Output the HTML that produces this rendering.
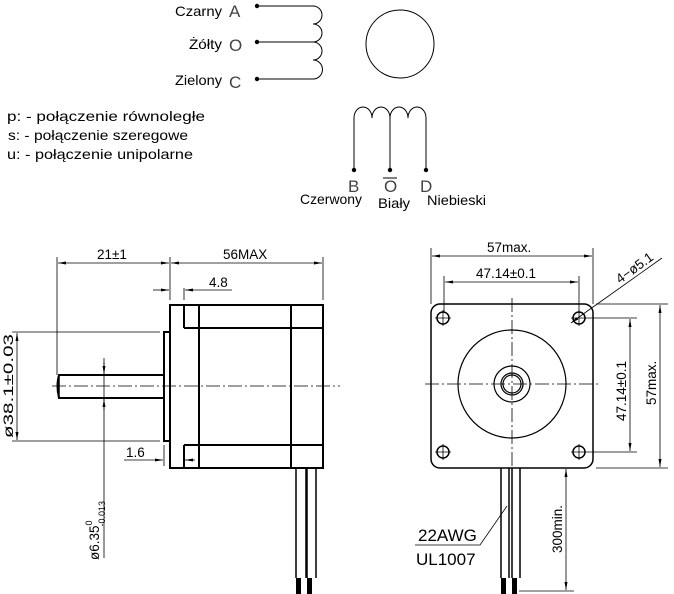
<!DOCTYPE html>
<html><head><meta charset="utf-8"><style>
html,body{margin:0;padding:0;background:#fff;}
svg{display:block;}
.c{font-family:"Liberation Sans",sans-serif;font-size:14px;fill:#000;}
.d{font-family:"Liberation Sans",sans-serif;font-size:13.5px;fill:#000;}
.l{font-family:"Liberation Sans",sans-serif;font-size:17px;fill:#444;}
</style></head><body>
<svg width="674" height="594" viewBox="0 0 674 594" xmlns="http://www.w3.org/2000/svg">
<defs>
<marker id="a" markerWidth="8" markerHeight="6" refX="8" refY="3" orient="auto" markerUnits="userSpaceOnUse"><path d="M0,1.5 L8,3 L0,4.5 z" fill="#000"/></marker>
</defs>
<g fill="none" stroke="#000" stroke-width="1">
<path d="M257,6 H313 A9,9 0 0 1 313,24 A9,9 0 0 1 313,42 A9,9 0 0 1 313,60 A9.5,9.5 0 0 1 313,79 H257"/>
<path d="M257,42 H313"/>
<circle cx="400" cy="44" r="34"/>
<path d="M354,170 V118 A9,11 0 0 1 372,118 A9,11 0 0 1 390,118 A9,11 0 0 1 408,118 A9,11 0 0 1 426,118 V170"/>
<path d="M390,118 V170"/>
<path d="M383,178 H397"/>
</g>
<g fill="#000">
<circle cx="257" cy="6" r="2.2"/><circle cx="257" cy="42" r="2.2"/><circle cx="257" cy="79" r="2.2"/>
<circle cx="354" cy="170" r="2.2"/><circle cx="390" cy="170" r="2.2"/><circle cx="426" cy="170" r="2.2"/>
</g>
<text class="c" x="175" y="16" textLength="47" lengthAdjust="spacingAndGlyphs">Czarny</text>
<text class="c" x="189" y="49" textLength="33" lengthAdjust="spacingAndGlyphs">Żółty</text>
<text class="c" x="175" y="85" textLength="47" lengthAdjust="spacingAndGlyphs">Zielony</text>
<text class="l" x="229" y="17">A</text>
<text class="l" x="229" y="51">O</text>
<text class="l" x="229" y="88">C</text>
<text class="l" x="348" y="192">B</text>
<text class="l" x="384" y="192">O</text>
<text class="l" x="420" y="192">D</text>
<text class="c" x="300" y="204" textLength="62" lengthAdjust="spacingAndGlyphs">Czerwony</text>
<text class="c" x="378" y="208" textLength="32" lengthAdjust="spacingAndGlyphs">Biały</text>
<text class="c" x="427" y="205" textLength="59" lengthAdjust="spacingAndGlyphs">Niebieski</text>
<text class="c" x="7" y="121" textLength="198" lengthAdjust="spacingAndGlyphs">p: - połączenie równoległe</text>
<text class="c" x="8" y="140" textLength="180" lengthAdjust="spacingAndGlyphs">s: - połączenie szeregowe</text>
<text class="c" x="7" y="159" textLength="186" lengthAdjust="spacingAndGlyphs">u: - połączenie unipolarne</text>

<g fill="none" stroke="#000" stroke-width="2">
<rect x="170" y="305" width="153" height="163"/>
<path d="M184,305 V328 M184,445 V468 M199,305 V468 M291,305 V468 M184,328 H323 M184,445 H323"/>
<path d="M164,332 H170 V441 H164 z"/>
<path d="M164,375 H59 Q56,386 59,398 H164"/>
<path d="M59,375 V398" stroke-width="1.5"/>
<path d="M296,468 V578 M306,468 V578 M307,468 V578 M316,468 V578" stroke-width="1.5"/>
</g>
<g fill="#000"><rect x="296" y="578" width="5" height="16"/><rect x="307" y="578" width="5" height="16"/></g>
<g fill="none" stroke="#000" stroke-width="0.8">
<path d="M52,386 H340" stroke-dasharray="14,3,2,3"/>
<path d="M57,257 V375 M170,257 V300 M323,257 V300 M184,288 V300 M164,445 V466"/>
<path d="M113,263 H58" marker-end="url(#a)"/><path d="M113,263 H169" marker-end="url(#a)"/>
<path d="M245,263 H171" marker-end="url(#a)"/><path d="M245,263 H322" marker-end="url(#a)"/>
<path d="M153,290 H169" marker-end="url(#a)"/><path d="M232,290 H185" marker-end="url(#a)"/>
<path d="M12,332 H160 M12,441 H160"/>
<path d="M17,386 V333" marker-end="url(#a)"/><path d="M17,386 V440" marker-end="url(#a)"/>
<path d="M104,358 V558"/>
<path d="M104,362 V374" marker-end="url(#a)"/><path d="M104,410 V399" marker-end="url(#a)"/>
<path d="M124,460 H163" marker-end="url(#a)"/><path d="M195,460 H185" marker-end="url(#a)"/>
</g>
<text class="d" x="97" y="259">21±1</text>
<text class="d" x="223" y="259">56MAX</text>
<text class="d" x="209" y="287">4.8</text>
<text class="d" x="126" y="457">1.6</text>
<text class="d" transform="translate(13,438) rotate(-90)" textLength="104" lengthAdjust="spacingAndGlyphs">ø38.1±0.03</text>
<text class="d" transform="translate(99,560) rotate(-90)">ø6.35<tspan font-size="9" dy="-7">0</tspan><tspan font-size="9" dx="-6" dy="13">-0.013</tspan></text>

<g fill="none" stroke="#000" stroke-width="1.5">
<rect x="431" y="304" width="162" height="164" rx="9"/>
<circle cx="512" cy="384" r="54" stroke-width="1.2"/>
<circle cx="512" cy="384" r="18" stroke-width="1.2"/>
<circle cx="512" cy="384" r="11" stroke-width="1.2"/>
<circle cx="512" cy="384" r="9" stroke-width="1.2"/>
<circle cx="443" cy="318" r="6"/><circle cx="579" cy="318" r="6"/>
<circle cx="443" cy="452" r="6"/><circle cx="579" cy="452" r="6"/>
<path d="M501,468 V578 M509,468 V578 M512,468 V578 M520,468 V578"/>
</g>
<g fill="#000"><rect x="501" y="578" width="5" height="16"/><rect x="512" y="578" width="5" height="16"/></g>
<g fill="none" stroke="#000" stroke-width="0.8">
<path d="M435,318 H451 M443,310 V326 M571,318 H587 M579,310 V326 M435,452 H451 M443,444 V460 M571,452 H587 M579,444 V460"/>
<path d="M425,384 H600 M512,298 V495" stroke-dasharray="14,3,2,3"/>
<path d="M431,248 V304 M593,248 V304 M444,276 V312 M579,276 V312"/>
<path d="M511,256 H432" marker-end="url(#a)"/><path d="M511,256 H592" marker-end="url(#a)"/>
<path d="M511,282 H445" marker-end="url(#a)"/><path d="M511,282 H578" marker-end="url(#a)"/>
<path d="M587,318 H637 M587,452 H637 M596,304 H668 M596,468 H668"/>
<path d="M630,385 V319" marker-end="url(#a)"/><path d="M630,385 V451" marker-end="url(#a)"/>
<path d="M660,385 V305" marker-end="url(#a)"/><path d="M660,385 V467" marker-end="url(#a)"/>
<path d="M662,258 L586,312"/><path d="M586,312 L571,323" marker-end="url(#a)"/>
<path d="M566,530 V469" marker-end="url(#a)"/><path d="M566,530 V590" marker-end="url(#a)"/>
<path d="M519,591 H574"/>
<path d="M415,545 H480 L507,506"/>
</g>
<text class="d" x="487" y="252">57max.</text>
<text class="d" x="476" y="278">47.14±0.1</text>
<text class="d" transform="translate(626,421) rotate(-90)">47.14±0.1</text>
<text class="d" transform="translate(656,405) rotate(-90)">57max.</text>
<text class="d" transform="translate(620,284) rotate(-36)">4−ø5.1</text>
<text class="d" transform="translate(562,553) rotate(-90)">300min.</text>
<text class="d" x="418" y="541" style="font-size:17px">22AWG</text>
<text class="d" x="416" y="565" style="font-size:17px">UL1007</text>
</svg>
</body></html>
